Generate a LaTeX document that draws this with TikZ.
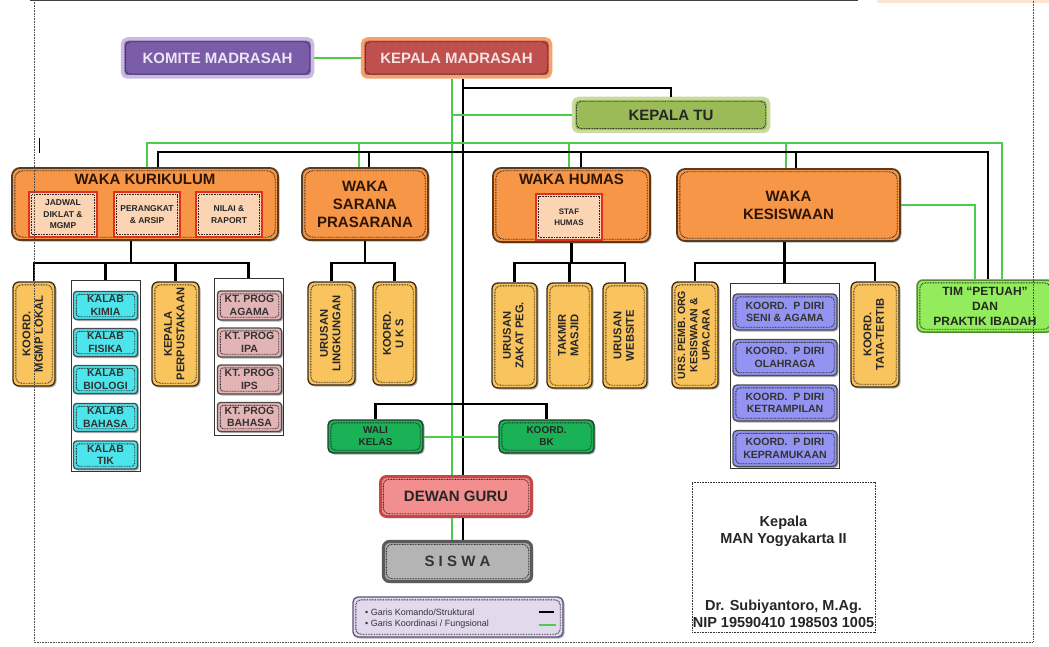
\documentclass[tikz,border=0pt]{standalone}
\usepackage{fontspec}
\setmainfont{Liberation Sans}
\usepackage{graphicx}
\usetikzlibrary{shadows}

\definecolor{garis}{HTML}{4CCB4C}
\definecolor{ungu}{HTML}{7B5CA8}
\definecolor{unguglow}{HTML}{C9BAE3}
\definecolor{unguteks}{HTML}{ECE4F7}
\definecolor{merah}{HTML}{C0504D}
\definecolor{merahglow}{HTML}{F5A26C}
\definecolor{merahteks}{HTML}{F6E2E0}
\definecolor{tuhijau}{HTML}{9BBB59}
\definecolor{tuglow}{HTML}{C9DB9F}
\definecolor{oranye}{HTML}{F79646}
\definecolor{coklat}{HTML}{5B3A1E}
\definecolor{wakateks}{HTML}{2E1606}
\definecolor{peach}{HTML}{FBD4B4}
\definecolor{merahsub}{HTML}{E0301E}
\definecolor{kuning}{HTML}{F9C45E}
\definecolor{gelap}{HTML}{3A2A12}
\definecolor{sian}{HTML}{4DE5EC}
\definecolor{merahmuda}{HTML}{E3B4B5}
\definecolor{biru}{HTML}{9393F2}
\definecolor{hijau}{HTML}{19B256}
\definecolor{hijaugelap}{HTML}{1D3D22}
\definecolor{dewanisi}{HTML}{F28E8E}
\definecolor{dewantepi}{HTML}{C4484A}
\definecolor{abu}{HTML}{B4B4B4}
\definecolor{abutepi}{HTML}{5A5A5A}
\definecolor{lavender}{HTML}{E2DAEC}
\definecolor{lavtepi}{HTML}{5E4E7E}
\definecolor{timisi}{HTML}{93EC5C}
\definecolor{timtepi}{HTML}{4C8C2A}
\definecolor{puncak}{HTML}{FCE3D2}

\newcommand{\vteks}[1]{\rotatebox{90}{\begin{tabular}{@{}c@{}}#1\end{tabular}}}

\tikzset{
  ukuran/.style 2 args={minimum width=#1pt, minimum height=#2pt},
  cmd/.style={draw=black, line width=2.2pt},
  fgs/.style={draw=garis, line width=2pt},
  titik/.style={path picture={\draw[black!85, dash pattern=on 0.8pt off 0.8pt, line width=0.9pt] ([shift={(2.8pt,2.8pt)}]path picture bounding box.south west) rectangle ([shift={(-2.8pt,-2.8pt)}]path picture bounding box.north east);}},
  bayang/.style={drop shadow={shadow xshift=1.5pt, shadow yshift=-1.5pt, opacity=0.3, fill=black}},
  kotak/.style={rectangle, rounded corners=4pt, line width=1.3pt, inner sep=1pt, align=center, titik},
  atas/.style={kotak, line width=3.5pt, rounded corners=5pt, font=\fontsize{15}{18}\selectfont\bfseries},
  waka/.style={kotak, bayang, fill=oranye, draw=coklat, line width=1.8pt, rounded corners=8pt, text=wakateks, font=\fontsize{15}{18}\selectfont\bfseries},
  wakajudul/.style={anchor=north, inner sep=3pt, yshift=-4pt, text=wakateks, font=\fontsize{15}{18}\selectfont\bfseries},
  sub/.style={kotak, fill=peach, draw=merahsub, rounded corners=0pt, line width=1.4pt, text=black!85, font=\fontsize{8.5}{11.5}\selectfont\bfseries},
  tegak/.style={kotak, bayang, fill=kuning, draw=gelap, rounded corners=6pt, text=black!85, font=\fontsize{11.2}{12.5}\selectfont\bfseries},
  wadah/.style={rectangle, draw=black!80, fill=white, line width=0.9pt},
  kalab/.style={kotak, bayang, fill=sian, draw=black!70, rounded corners=3pt, text=black!80, font=\fontsize{10.5}{12.5}\selectfont\bfseries, ukuran={64}{28}},
  ktprog/.style={kotak, bayang, fill=merahmuda, draw=black!70, rounded corners=3pt, text=black!80, font=\fontsize{10.5}{12.5}\selectfont\bfseries, ukuran={64}{29}},
  pdiri/.style={kotak, bayang, fill=biru, draw=black!70, rounded corners=4pt, text=black!80, font=\fontsize{10.5}{12.5}\selectfont\bfseries, ukuran={104}{36}},
  hijaubox/.style={kotak, bayang, fill=hijau, draw=hijaugelap, rounded corners=5pt, text=black!85, font=\fontsize{10}{12}\selectfont\bfseries, ukuran={95}{33}},
  dewanbox/.style={kotak, bayang, fill=dewanisi, draw=dewantepi, line width=3pt, rounded corners=6pt, text=black!85, font=\fontsize{15}{18}\selectfont\bfseries},
  siswabox/.style={kotak, bayang, fill=abu, draw=abutepi, line width=3.2pt, rounded corners=6pt, text=black!80, font=\fontsize{15}{18}\selectfont\bfseries},
  timbox/.style={kotak, fill=timisi, draw=timtepi, line width=1.5pt, rounded corners=6pt, text=black!85, font=\fontsize{12}{15}\selectfont\bfseries},
  legenda/.style={kotak, bayang, fill=lavender, draw=lavtepi, rounded corners=5pt},
  lgteks/.style={anchor=west, inner sep=0pt, text=black!80, font=\fontsize{9}{11}\selectfont},
  ttdbox/.style={rectangle, draw=black!80, dash pattern=on 0.8pt off 0.8pt, line width=0.9pt},
  ttdteks/.style={align=center, text=black!85, font=\fontsize{14.5}{17}\selectfont\bfseries}
}

\begin{document}
\begin{tikzpicture}[x=1pt,y=-1pt]
\useasboundingbox (0,0) rectangle (1049,647);
\fill[puncak] (877,0) rectangle (1049,3);
\draw[line width=1.2pt, black!75] (30,0.8) -- (858,0.8);

\node[atas, fill=ungu, draw=unguglow, text=unguteks, ukuran={190}{38}] (komite) at (217.5,58) {KOMITE MADRASAH};
\node[atas, fill=merah, draw=merahglow, text=merahteks, ukuran={188}{38}] (kepala) at (456.5,58) {KEPALA MADRASAH};
\node[atas, fill=tuhijau, draw=tuglow, text=black!85, ukuran={195}{33}] (tu) at (671,115) {KEPALA TU};

\node[waka, ukuran={266}{72}, label={[wakajudul]north:WAKA KURIKULUM}] (kurikulum) at (145,204) {};
\node[sub, ukuran={68}{45}] (jadwal) at (63,214.5) {JADWAL\\DIKLAT \&\\MGMP};
\node[sub, ukuran={66}{45}] (perangkat) at (147,214.5) {PERANGKAT\\\& ARSIP};
\node[sub, ukuran={66}{45}] (nilai) at (229,214.5) {NILAI \&\\RAPORT};
\node[waka, ukuran={126}{72}] (sarana) at (365,204) {WAKA\\SARANA\\PRASARANA};
\node[waka, ukuran={157}{74}, label={[wakajudul]north:WAKA HUMAS}] (humas) at (571.5,205) {};
\node[sub, ukuran={66}{46}, font=\fontsize{8}{11}\selectfont\bfseries] (stafhumas) at (569,217) {STAF\\HUMAS};
\node[waka, ukuran={223}{72}] (kesiswaan) at (788.5,205) {WAKA\\KESISWAAN};
\node[timbox, ukuran={136}{52}] (tim) at (985,306) {TIM “PETUAH”\\DAN\\PRAKTIK IBADAH};

\node[tegak, ukuran={42}{104}] (mgmp) at (34,334) {\vteks{KOORD.\\MGMP LOKAL}};
\node[wadah, ukuran={69}{191}] (kalabwadah) at (105.5,375.5) {};
\foreach \n/\t/\y in {kimia/KIMIA/305.5, fisika/FISIKA/342.5, biologi/BIOLOGI/379.5, bahasa/BAHASA/417.5, tik/TIK/455}
  \node[kalab] (\n) at (105.5,\y) {KALAB\\\t};
\node[tegak, ukuran={47}{104}] (perpus) at (175.5,334) {\vteks{KEPALA\\PERPUSTAKAAN}};
\node[wadah, ukuran={69}{157}] (ktwadah) at (248.5,356.5) {};
\foreach \n/\t/\y in {ktagama/AGAMA/305.5, ktipa/IPA/342.5, ktips/IPS/379.5, ktbahasa/BAHASA/417}
  \node[ktprog] (\n) at (249.5,\y) {KT. PROG\\\t};

\node[tegak, ukuran={47}{103}] (lingkungan) at (331.5,333.5) {\vteks{URUSAN\\LINGKUNGAN}};
\node[tegak, ukuran={43}{103}] (uks) at (394.5,333.5) {\vteks{KOORD.\\U K S}};
\node[tegak, ukuran={45}{105}] (zakat) at (514.5,335.5) {\vteks{URUSAN\\ZAKAT PEG.}};
\node[tegak, ukuran={45}{105}] (takmir) at (569.5,335.5) {\vteks{TAKMIR\\MASJID}};
\node[tegak, ukuran={44}{105}] (website) at (625,335.5) {\vteks{URUSAN\\WEBSITE}};
\node[tegak, ukuran={46}{106}, font=\fontsize{10.5}{12.2}\selectfont\bfseries] (upacara) at (695,335) {\vteks{URS. PEMB. ORG\\KESISWAAN \&\\UPACARA}};
\node[wadah, ukuran={109}{185}] (pdiriwadah) at (784.5,375.5) {};
\foreach \n/\t/\y in {seni/SENI \& AGAMA/312, olahraga/OLAHRAGA/357.5, ketrampilan/KETRAMPILAN/403, pramuka/KEPRAMUKAAN/448.5}
  \node[pdiri] (\n) at (785,\y) {KOORD.\ \ P DIRI\\\t};
\node[tegak, ukuran={48}{105}] (tatatertib) at (875,334.5) {\vteks{KOORD.\\TATA-TERTIB}};

\node[hijaubox] (walikelas) at (375.5,436.5) {WALI\\KELAS};
\node[hijaubox] (bk) at (546.5,436.5) {KOORD.\\BK};
\node[dewanbox, ukuran={151}{40}] (dewan) at (456,496.5) {DEWAN GURU};
\node[siswabox, ukuran={148}{40}] (siswa) at (457.5,561.5) {S I S W A};

\node[legenda, ukuran={210}{40}] (legenda) at (458,617) {};
\node[lgteks] (lgkomando) at (365,612) {• Garis Komando/Struktural};
\node[lgteks] (lgfungsi) at (365,624.5) {• Garis Koordinasi / Fungsional};

\node[ttdbox, ukuran={183}{150}] (ttd) at (783.5,557) {};
\node[ttdteks] (jabatan) at (783.5,531.5) {Kepala\\MAN Yogyakarta II};
\node[ttdteks] (nama) at (783.5,613.5) {Dr. Subiyantoro, M.Ag.\\NIP 19590410 198503 1005};

\coordinate (tkg) at (452,0);
\coordinate (tkh) at (463,0);
\coordinate (tuj) at (463,88);
\coordinate (gbus) at (0,143);
\coordinate (hbus) at (0,152);
\coordinate (cbus) at (0,263);
\coordinate (wbus) at (463,404);

\draw[fgs] (komite.east) -- (kepala.west);
\draw[fgs] (kepala.south -| tkg) -- (dewan.north -| tkg);
\draw[fgs] (dewan.south -| tkg) -- (siswa.north -| tkg);
\draw[cmd] (kepala.south -| tkh) -- (dewan.north -| tkh);
\draw[cmd] (dewan.south -| tkh) -- (siswa.north -| tkh);
\draw[cmd] (tuj) -| (tu.north);
\draw[fgs] (tkg |- tu.west) -- (tu.west);

\draw[fgs] ([xshift=2pt]kurikulum.north) |- ([xshift=17pt]tim.north |- gbus) -- ([xshift=17pt]tim.north);
\foreach \n/\s in {sarana/-6, humas/-2.5, kesiswaan/-2.5}
  \draw[fgs] ([xshift=\s pt]\n.north) -- ([xshift=\s pt]\n.north |- gbus);
\draw[cmd] ([xshift=13pt]kurikulum.north) |- ([xshift=3pt]tim.north |- hbus) -- ([xshift=3pt]tim.north);
\foreach \n/\s in {sarana/4, humas/9.5, kesiswaan/7.5}
  \draw[cmd] ([xshift=\s pt]\n.north) -- ([xshift=\s pt]\n.north |- hbus);
\draw[fgs] (kesiswaan.east) -| ([xshift=-10pt]tim.north);

\draw[cmd] ([xshift=-14pt]kurikulum.south) -- ([xshift=-14pt]kurikulum.south |- cbus);
\draw[cmd] (mgmp.north) |- (ktwadah.north |- cbus) -- (ktwadah.north);
\foreach \n in {kalabwadah, perpus}
  \draw[cmd] (\n.north) -- (\n.north |- cbus);
\draw[cmd] (sarana.south) -- (sarana.south |- cbus);
\draw[cmd] (lingkungan.north) |- (uks.north |- cbus) -- (uks.north);
\draw[cmd] (humas.south) -- (humas.south |- cbus);
\draw[cmd] (zakat.north) |- (website.north |- cbus) -- (website.north);
\draw[cmd] (takmir.north) -- (takmir.north |- cbus);
\draw[cmd] (kesiswaan.south -| pdiriwadah.north) -- (pdiriwadah.north);
\draw[cmd] (upacara.north) |- (tatatertib.north |- cbus) -- (tatatertib.north);
\draw[cmd] (walikelas.north) |- (wbus) -| (bk.north);
\draw[fgs] (walikelas.east) -- (bk.west);

\draw[cmd, line width=2pt] ([xshift=-25pt]legenda.east |- lgkomando) -- ([xshift=-10pt]legenda.east |- lgkomando);
\draw[fgs] ([xshift=-25pt]legenda.east |- lgfungsi) -- ([xshift=-8pt]legenda.east |- lgfungsi);

\draw[black!70, dash pattern=on 0.8pt off 0.8pt, line width=0.8pt] (34,0) -- (34,642) -- (1033,642) -- (1033,0);
\draw[line width=1.6pt] (39.5,138) -- (39.5,153);
\end{tikzpicture}
\end{document}
